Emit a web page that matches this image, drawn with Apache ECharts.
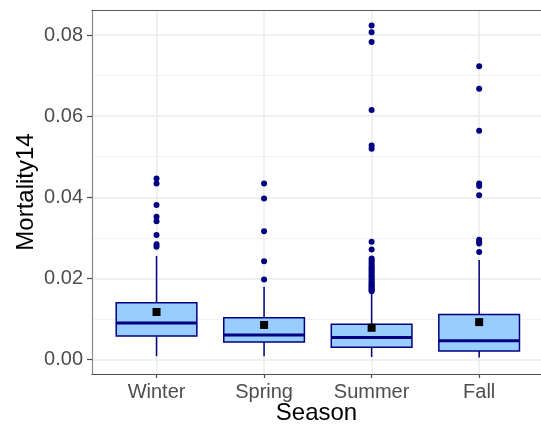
<!DOCTYPE html>
<html>
<head>
<meta charset="utf-8">
<script src="https://cdn.jsdelivr.net/npm/echarts@6/dist/echarts.min.js"></script>
<style>
  html, body { margin: 0; padding: 0; background: #ffffff; }
  #chart { width: 541px; height: 430px; }
</style>
</head>
<body>
<div id="chart"></div>
<script>
// Seasonal 14-day mortality: box summaries, means and outlying observations
const seasons = ['Winter', 'Spring', 'Summer', 'Fall'];

const whiskerLow  = [0.0008, 0.0008, 0.0006, 0.0005];
const quartile1   = [0.0058, 0.0043, 0.0030, 0.0021];
const medians     = [0.0090, 0.0060, 0.0054, 0.0046];
const quartile3   = [0.0140, 0.0103, 0.0087, 0.0111];
const whiskerHigh = [0.0255, 0.0179, 0.0163, 0.0245];
const means       = [0.0117, 0.0085, 0.0078, 0.0092];

const outliersWinter = [0.0446, 0.0434, 0.0381, 0.0352, 0.0341, 0.0307, 0.0284, 0.0278];
const outliersSpring = [0.0434, 0.0397, 0.0316, 0.0242, 0.0197];
const outliersSummer = [0.0824, 0.0807, 0.0783, 0.0615, 0.0528, 0.0520,
  0.0290, 0.0271, 0.0249, 0.0244, 0.0239, 0.0234, 0.0229, 0.0225, 0.0221,
  0.0217, 0.0213, 0.0209, 0.0205, 0.0201, 0.0197, 0.0193, 0.0189, 0.0186,
  0.0183, 0.0180, 0.0177, 0.0174, 0.0171, 0.0168];
const outliersFall = [0.0723, 0.0668, 0.0564, 0.0434, 0.0428, 0.0405, 0.0295, 0.0290, 0.0286, 0.0265];

const yTicks = [0, 0.02, 0.04, 0.06, 0.08];
const yMinorLines = [0.01, 0.03, 0.05, 0.07];
const xTicks = [1, 2, 3, 4];

const outlierGroups = [outliersWinter, outliersSpring, outliersSummer, outliersFall];

const boxData = seasons.map((s, i) => [i + 1, whiskerLow[i], quartile1[i], medians[i], quartile3[i], whiskerHigh[i]]);
const meanData = means.map((m, i) => [i + 1, m]);
const outlierData = [];
outlierGroups.forEach((g, i) => g.forEach(v => outlierData.push([i + 1, v])));

const NAVY = '#000080';
const FILL = '#99ccff';
const FONT = '"Liberation Sans", Arial, sans-serif';
const BOX_WIDTH = 0.75;

function renderBox(params, api) {
  const x = api.value(0);
  const pLow = api.coord([x, api.value(1)]);
  const pQ1 = api.coord([x, api.value(2)]);
  const pMed = api.coord([x, api.value(3)]);
  const pQ3 = api.coord([x, api.value(4)]);
  const pHigh = api.coord([x, api.value(5)]);
  const half = api.size([BOX_WIDTH, 0])[0] / 2;
  const lineStyle = { stroke: NAVY, lineWidth: 1.5 };
  return {
    type: 'group',
    children: [
      { type: 'line', shape: { x1: pQ3[0], y1: pQ3[1], x2: pHigh[0], y2: pHigh[1] }, style: lineStyle },
      { type: 'line', shape: { x1: pLow[0], y1: pLow[1], x2: pQ1[0], y2: pQ1[1] }, style: lineStyle },
      { type: 'rect', shape: { x: pQ3[0] - half, y: pQ3[1], width: half * 2, height: pQ1[1] - pQ3[1] },
        style: { fill: FILL, stroke: NAVY, lineWidth: 1.5 } },
      { type: 'line', shape: { x1: pMed[0] - half, y1: pMed[1], x2: pMed[0] + half, y2: pMed[1] },
        style: { stroke: NAVY, lineWidth: 3 } }
    ]
  };
}

const chart = echarts.init(document.getElementById('chart'), null, { renderer: 'canvas' });

chart.setOption({
  backgroundColor: '#ffffff',
  animation: false,
  grid: { left: 92, right: 0, top: 10, bottom: 56, containLabel: false, outerBoundsMode: 'none' },
  xAxis: [
    {
      type: 'value', min: 0.4, max: 4.575, position: 'bottom',
      name: 'Season', nameLocation: 'middle', nameGap: 27, nameMoveOverlap: false,
      nameTextStyle: { fontFamily: FONT, fontSize: 24, color: '#000000' },
      axisLine: { show: true, onZero: false, lineStyle: { color: '#4d4d4d', width: 1.2 } },
      axisTick: { show: true, customValues: xTicks, length: 4, lineStyle: { color: '#4d4d4d', width: 1.2 } },
      axisLabel: { customValues: xTicks, margin: 8, fontFamily: FONT, fontSize: 20, color: '#4d4d4d',
        formatter: v => seasons[Math.round(v) - 1] || '' },
      splitLine: { show: true, lineStyle: { color: '#ebebeb', width: 1.5 } }
    },
    {
      type: 'value', min: 0.4, max: 4.575, position: 'top',
      axisLine: { show: true, onZero: false, lineStyle: { color: '#5a5a5a', width: 1.2 } },
      axisTick: { show: false }, axisLabel: { show: false }, splitLine: { show: false }
    }
  ],
  yAxis: [
    {
      type: 'value', min: -0.0036, max: 0.0862, position: 'left',
      name: 'Mortality14', nameLocation: 'middle', nameGap: 54, nameRotate: 90, nameMoveOverlap: false,
      nameTextStyle: { fontFamily: FONT, fontSize: 24, color: '#000000' },
      axisLine: { show: true, onZero: false, lineStyle: { color: '#8a8a8a', width: 1.2 } },
      axisTick: { show: true, customValues: yTicks, length: 5, lineStyle: { color: '#4d4d4d', width: 1.2 } },
      axisLabel: { customValues: yTicks, margin: 9, fontFamily: FONT, fontSize: 20, color: '#4d4d4d',
        formatter: v => v.toFixed(2) },
      splitLine: { show: true, lineStyle: { color: '#ebebeb', width: 1.5 } }
    },
    {
      type: 'value', min: -0.0036, max: 0.0862, position: 'left',
      axisLine: { show: false },
      axisTick: { show: false, customValues: yMinorLines },
      axisLabel: { show: false, customValues: yMinorLines },
      splitLine: { show: true, lineStyle: { color: '#f3f3f3', width: 1 } }
    }
  ],
  series: [
    {
      type: 'custom', name: 'box', xAxisIndex: 0, yAxisIndex: 0,
      renderItem: renderBox,
      encode: { x: 0, y: [1, 2, 3, 4, 5] },
      data: boxData, z: 3
    },
    {
      type: 'scatter', name: 'outliers', xAxisIndex: 0, yAxisIndex: 0,
      symbol: 'circle', symbolSize: 6,
      itemStyle: { color: NAVY, opacity: 1 },
      data: outlierData, z: 4
    },
    {
      type: 'scatter', name: 'mean', xAxisIndex: 0, yAxisIndex: 0,
      symbol: 'rect', symbolSize: 8,
      itemStyle: { color: '#000000', opacity: 1 },
      data: meanData, z: 5
    }
  ]
});
</script>
</body>
</html>
